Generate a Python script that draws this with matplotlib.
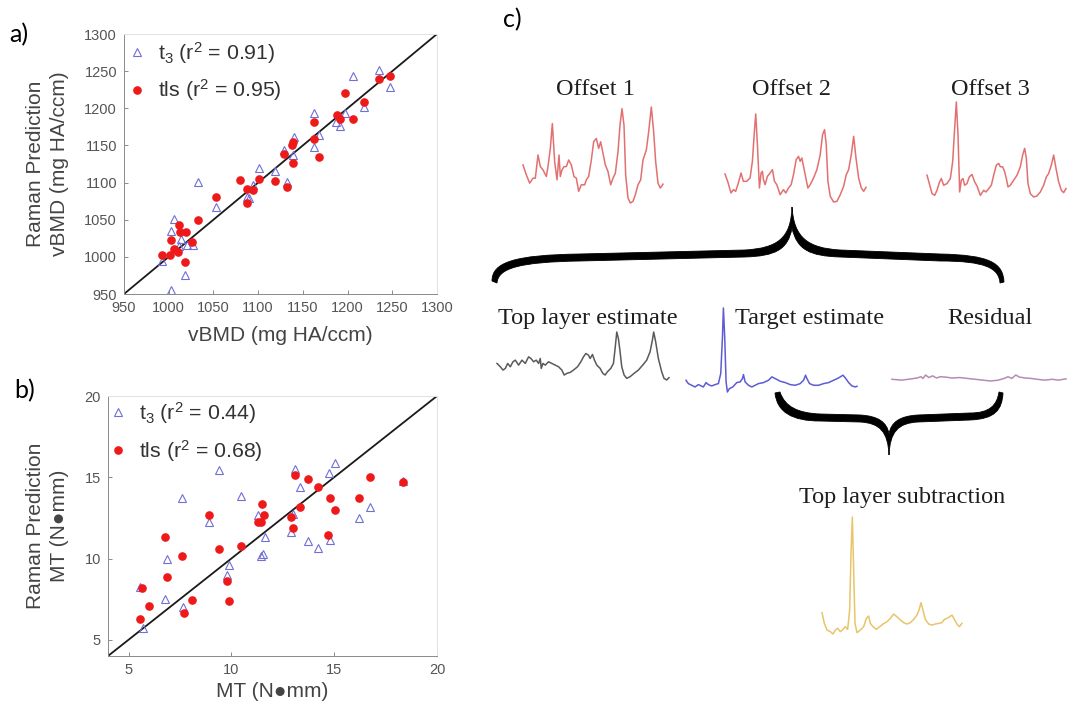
import numpy as np
import matplotlib
matplotlib.use("Agg")
import matplotlib.pyplot as plt
from matplotlib.path import Path
from matplotlib.patches import PathPatch

W, H = 1076, 708

# ---- panel a: vBMD (mg HA/ccm), measured vs Raman prediction
vbmd_t3_x = [1206, 1235, 1247, 1218, 1197, 1187, 1191, 1162, 1162, 1168, 1140, 1139, 1129, 1132, 1119,
             1101, 1087, 1090, 1094, 1053, 1033, 1006, 1002, 1014, 1012, 1020, 1027, 1018, 1002, 993]
vbmd_t3_y = [1243, 1252, 1229, 1202, 1193, 1181, 1176, 1194, 1148, 1164, 1162, 1137, 1144, 1101, 1115,
             1119, 1081, 1079, 1097, 1067, 1101, 1051, 1035, 1024, 1015, 1016, 1016, 975, 956, 994]
vbmd_tls_x = [1247, 1235, 1218, 1197, 1206, 1188, 1191, 1162, 1162, 1168, 1139, 1138, 1139, 1129, 1132,
              1119, 1101, 1080, 1087, 1094, 1087, 1053, 1033, 1011, 1013, 1019, 1003, 1026, 1006, 1010,
              1001, 993, 1018]
vbmd_tls_y = [1243, 1239, 1209, 1220, 1186, 1191, 1186, 1182, 1159, 1135, 1155, 1150, 1127, 1139, 1094,
              1102, 1105, 1104, 1091, 1090, 1072, 1081, 1050, 1043, 1033, 1034, 1023, 1020, 1010, 1007,
              1002, 1002, 993]

# ---- panel b: MT (N*mm)
mt_t3_x = [9.41, 7.58, 10.49, 8.91, 6.88, 9.89, 9.80, 6.77, 7.67, 5.57, 5.71, 11.29, 11.63, 11.42,
           11.53, 13.10, 13.33, 13.02, 12.91, 13.72, 14.22, 14.74, 15.03, 14.82, 16.22, 16.73, 18.35]
mt_t3_y = [15.46, 13.70, 13.82, 12.27, 9.94, 9.57, 8.96, 7.48, 7.03, 8.26, 5.75, 12.66, 11.31, 10.18,
           10.25, 15.52, 14.38, 12.76, 11.62, 11.06, 10.65, 15.26, 15.85, 11.12, 12.47, 13.17, 14.79]
mt_tls_x = [5.66, 5.58, 5.99, 6.77, 6.88, 7.59, 7.69, 8.10, 8.91, 9.39, 9.80, 9.89, 10.49, 11.50,
            11.60, 11.29, 11.42, 13.10, 13.72, 13.33, 12.91, 13.01, 14.22, 14.82, 15.03, 14.72,
            16.22, 16.72, 18.35]
mt_tls_y = [8.16, 6.26, 7.08, 11.31, 8.85, 10.14, 6.67, 7.42, 12.66, 10.59, 8.61, 7.38, 10.76, 13.37,
            12.66, 12.23, 12.23, 15.15, 14.91, 13.15, 12.54, 11.90, 14.40, 13.74, 13.01, 11.45,
            13.74, 15.01, 14.69]

# ---- panel c: spectra (arbitrary units)
off1_x = [25, 35, 45, 55, 62, 70, 77, 85, 95, 100, 107, 113, 120, 127, 133, 137, 142, 148, 155, 162,
          170, 178, 185, 192, 200, 210, 215, 222, 230, 237, 245, 252, 258, 265, 272, 280, 288, 295,
          302, 310, 316, 322, 328, 333, 340, 347, 355, 362, 370, 378, 385, 395, 402, 410, 417, 423,
          430, 437, 445]
off1_y = [130, 100, 75, 90, 90, 160, 125, 115, 95, 125, 180, 255, 140, 85, 160, 95, 115, 125, 125, 145,
          130, 95, 90, 50, 70, 70, 85, 95, 145, 200, 210, 180, 200, 165, 130, 110, 70, 90,
          105, 170, 250, 300, 250, 100, 30, 15, 20, 40, 70, 85, 145, 175, 230, 305, 230, 140,
          75, 60, 72]
off2_x = [630, 638, 648, 655, 662, 670, 678, 685, 695, 705, 712, 718, 722, 727, 733, 738, 742, 745,
          750, 757, 765, 772, 778, 785, 795, 805, 812, 820, 828, 835, 843, 850, 855, 860, 866, 872,
          878, 885, 895, 905, 915, 922, 928, 933, 938, 945, 955, 965, 975, 985, 993, 1000, 1008,
          1015, 1022, 1030, 1038, 1045, 1052]
off2_y = [102, 80, 45, 55, 50, 75, 105, 80, 80, 90, 140, 230, 282, 190, 60, 105, 110, 85,
          70, 95, 105, 115, 80, 70, 40, 55, 45, 60, 70, 100, 145, 155, 140, 150, 120, 90,
          60, 70, 90, 115, 160, 220, 235, 190, 80, 35, 18, 20, 40, 65, 100, 115, 160,
          215, 150, 90, 60, 50, 62]
off3_x = [1235, 1242, 1250, 1258, 1265, 1272, 1278, 1285, 1295, 1305, 1312, 1318, 1323, 1328, 1333,
          1338, 1343, 1348, 1355, 1362, 1370, 1378, 1385, 1395, 1405, 1412, 1420, 1428, 1435, 1443,
          1450, 1455, 1462, 1468, 1473, 1478, 1485, 1495, 1505, 1515, 1522, 1528, 1533, 1538, 1545,
          1555, 1565, 1575, 1585, 1593, 1600, 1608, 1615, 1622, 1630, 1638, 1645, 1652]
off3_y = [100, 75, 45, 40, 55, 78, 90, 70, 75, 90, 140, 240, 318, 220, 50,
          85, 90, 70, 75, 95, 102, 80, 68, 40, 55, 50, 60, 70, 100, 130,
          135, 125, 125, 110, 90, 65, 70, 85, 100, 125, 160, 180, 150, 75, 45,
          35, 38, 50, 70, 95, 105, 130, 160, 120, 80, 55, 48, 60]
top_x = [20, 30, 38, 45, 52, 60, 68, 75, 85, 95, 105, 115, 122, 130, 138, 145, 150, 153, 158, 165,
         175, 185, 195, 205, 215, 222, 230, 240, 250, 262, 272, 280, 287, 295, 300, 307, 313, 320,
         330, 338, 345, 352, 362, 370, 375, 380, 385, 390, 395, 402, 410, 420, 432, 445, 458, 470,
         480, 487, 491, 497, 505, 515, 522, 530, 537]
top_y = [65, 55, 45, 50, 65, 55, 70, 75, 60, 75, 65, 85, 80, 70, 75, 65, 80, 50, 65, 60,
         70, 65, 60, 55, 45, 30, 35, 38, 45, 55, 70, 85, 95, 90, 80, 92, 75, 60,
         50, 35, 30, 40, 50, 65, 110, 160, 140, 100, 55, 30, 20, 25, 35, 45, 60, 75,
         100, 135, 160, 130, 80, 40, 20, 15, 22]
target_x = [588, 595, 605, 615, 625, 640, 648, 655, 665, 675, 685, 692, 697, 700, 704, 708, 712, 718,
            728, 740, 750, 757, 760, 765, 775, 785, 795, 805, 820, 835, 845, 855, 870, 885, 900, 915,
            930, 940, 946, 950, 958, 970, 985, 1000, 1015, 1030, 1045, 1058, 1065, 1075, 1085, 1095,
            1100]
target_y = [45, 35, 30, 25, 32, 25, 38, 32, 28, 32, 35, 65, 170, 260, 170, 40, 10, 20,
            25, 38, 40, 50, 62, 40, 30, 25, 30, 35, 38, 45, 55, 50, 42, 38, 32, 30,
            35, 45, 60, 50, 35, 30, 30, 35, 38, 45, 52, 60, 52, 38, 28, 25, 27]
resid_x = [1085, 1110, 1135, 1150, 1160, 1165, 1172, 1180, 1190, 1200, 1210, 1225, 1240, 1260, 1280,
           1300, 1320, 1340, 1360, 1375, 1385, 1395, 1405, 1415, 1430, 1445, 1460, 1480, 1500, 1515,
           1535]
resid_y = [7, 5, 8, 10, 13, 9, 17, 11, 15, 10, 13, 12, 10, 11, 9, 7, 5, 3, 5, 9, 13, 9, 17, 12, 10,
           9, 7, 5, 7, 5, 8]
sub_x = [185, 192, 200, 210, 218, 225, 232, 240, 248, 255, 262, 268, 272, 276, 280, 284, 290, 300,
         310, 318, 325, 330, 338, 348, 358, 368, 380, 390, 400, 410, 420, 430, 440, 450, 460, 470,
         476, 482, 488, 495, 505, 515, 525, 535, 545, 552, 560, 568, 575, 582, 590, 597, 605]
sub_y = [72, 40, 20, 15, 8, 20, 25, 15, 22, 30, 22, 80, 250, 360, 200, 40, 12, 20,
         30, 55, 62, 40, 30, 22, 30, 38, 45, 55, 68, 60, 50, 42, 38, 42, 52, 65,
         80, 102, 80, 52, 38, 35, 38, 40, 42, 52, 55, 60, 65, 52, 38, 30, 40]

plt.rcParams['mathtext.default'] = 'regular'
plt.rcParams['font.family'] = ['Liberation Sans', 'DejaVu Sans']

fig = plt.figure(figsize=(W / 100, H / 100), dpi=100)


def px_axes(x0, y0, x1, y1, **kw):
    # box given in pixels, y measured from the top
    return fig.add_axes([x0 / W, 1 - y1 / H, (x1 - x0) / W, (y1 - y0) / H], **kw)


# overlay for panel-c annotation and panel labels
ov = px_axes(0, 0, W, H)
ov.set_xlim(0, W)
ov.set_ylim(H, 0)
ov.axis('off')

label_font = ['Lato', 'DejaVu Sans']
ov.text(9, 35, 'a)', fontsize=18, family=label_font, va='center')
ov.text(14, 391, 'b)', fontsize=18, family=label_font, va='center')
ov.text(503, 20, 'c)', fontsize=18, family=label_font, va='center')


def scatter_panel(ax, t3x, t3y, tlsx, tlsy, lims, ticks, t3_r2, tls_r2, xlabel, ylabel,
                  xlab_y, ylab_x, leg_anchor):
    ax.plot(lims, lims, color='#1a1a1a', lw=1.3, zorder=1)
    ax.plot(t3x, t3y, linestyle='none', marker='^', ms=6.4, mfc='none', mec='#6f6fd8', mew=0.8,
            label=f'$t_3$ ($r^2$ = {t3_r2})', zorder=2)
    ax.plot(tlsx, tlsy, linestyle='none', marker='o', ms=5.2, mfc='#ee1a1a', mec='#ee1a1a',
            label=f'tls ($r^2$ = {tls_r2})', zorder=3)
    ax.set_xlim(lims)
    ax.set_ylim(lims)
    ax.set_xticks(ticks)
    ax.set_yticks(ticks)
    ax.tick_params(direction='in', length=3, width=0.6, color='#777777', labelcolor='#555555',
                   labelsize=10.5, pad=5)
    for side in ['left', 'bottom']:
        ax.spines[side].set_color('#8a8a8a')
        ax.spines[side].set_linewidth(0.7)
    for side in ['top', 'right']:
        ax.spines[side].set_color('#e2e2e2')
        ax.spines[side].set_linewidth(0.7)
    ax.set_xlabel(xlabel, fontsize=15, color='#444444', va='center')
    ax.xaxis.set_label_coords(0.5, xlab_y)
    ax.set_ylabel(ylabel, fontsize=15, color='#444444', va='center', linespacing=1.35)
    ax.yaxis.set_label_coords(ylab_x, 0.5)
    leg = ax.legend(loc='upper left', bbox_to_anchor=leg_anchor, frameon=False, fontsize=15.3,
                    handlelength=0.8, handletextpad=0.6, labelspacing=0.55, borderaxespad=0,
                    borderpad=0)
    for t in leg.get_texts():
        t.set_color('#333333')


ax_a = px_axes(124, 34, 437, 294)
scatter_panel(ax_a, vbmd_t3_x, vbmd_t3_y, vbmd_tls_x, vbmd_tls_y, (950, 1300),
              np.arange(950, 1301, 50), '0.91', '0.95', 'vBMD (mg HA/ccm)',
              'Raman Prediction\nvBMD (mg HA/ccm)', -0.158, -0.245, (0.013, 0.978))

ax_b = px_axes(108, 396, 437, 656)
scatter_panel(ax_b, mt_t3_x, mt_t3_y, mt_tls_x, mt_tls_y, (4, 20), [5, 10, 15, 20],
              '0.44', '0.68', 'MT (N\u25CFmm)', 'Raman Prediction\nMT (N\u25CFmm)',
              -0.138, -0.184, (0.004, 0.984))


def spectrum(box, xs, ys, color):
    ax = px_axes(*box)
    ax.plot(xs, ys, color=color, lw=1.1, clip_on=False, solid_joinstyle='round')
    ax.set_xlim(min(xs), max(xs))
    ax.set_ylim(min(ys), max(ys))
    ax.axis('off')
    return ax


spectrum((523, 107, 663, 203), off1_x, off1_y, '#e27070')
spectrum((725, 114, 866, 202), off2_x, off2_y, '#e27070')
spectrum((927, 102, 1066, 197), off3_x, off3_y, '#e27070')
spectrum((497, 332, 669, 380), top_x, top_y, '#5a5a5a')
spectrum((686, 308, 857, 392), target_x, target_y, '#5c5cd4')
spectrum((892, 375, 1066, 381), resid_x, resid_y, '#b48cb4')
spectrum((822, 517, 962, 634), sub_x, sub_y, '#e8c56a')

serif = ['Liberation Serif', 'DejaVu Serif']
for txt, cx, base in [('Offset 1', 595, 95), ('Offset 2', 792, 95), ('Offset 3', 990, 95),
                      ('Top layer estimate', 588, 324), ('Target estimate', 810, 324),
                      ('Residual', 990, 324), ('Top layer subtraction', 902, 503)]:
    ov.text(cx, base, txt, fontsize=17.5, family=serif, color='#1e1e1e', ha='center',
            va='baseline')

# braces (drawn as tapered filled outlines, pixel units)
M, L, C, Z = Path.MOVETO, Path.LINETO, Path.CURVE4, Path.CLOSEPOLY
big = [((492, 281), M),
       ((492, 262), C), ((515, 255), C), ((580, 254), C),
       ((745, 250), L),
       ((778, 248), C), ((791, 238), C), ((792, 207), C),
       ((794, 238), C), ((808, 248), C), ((840, 250), C),
       ((940, 254), L),
       ((990, 255), C), ((1003, 263), C), ((1004, 282), C),
       ((1000, 283), L),
       ((999, 268), C), ((985, 261), C), ((940, 261), C),
       ((840, 257), L),
       ((810, 256), C), ((797, 250), C), ((792, 228), C),
       ((788, 250), C), ((775, 256), C), ((745, 257), C),
       ((580, 261), L),
       ((520, 262), C), ((498, 268), C), ((497, 283), C),
       ((492, 281), Z)]
small = [((775, 393), M),
         ((777, 412), C), ((792, 421), C), ((820, 421), C),
         ((860, 422), L),
         ((880, 423), C), ((888, 432), C), ((889, 455), C),
         ((890, 432), C), ((898, 423), C), ((918, 422), C),
         ((970, 420), L),
         ((995, 419), C), ((1002, 410), C), ((1003, 393), C),
         ((999, 392), L),
         ((997, 405), C), ((990, 413), C), ((970, 413), C),
         ((918, 415), L),
         ((900, 416), C), ((891, 422), C), ((889, 434), C),
         ((887, 422), C), ((878, 416), C), ((860, 415), C),
         ((820, 414), L),
         ((798, 413), C), ((785, 407), C), ((780, 392), C),
         ((775, 393), Z)]
for spec in (big, small):
    verts, codes = zip(*spec)
    ov.add_patch(PathPatch(Path(verts, codes), facecolor='black', edgecolor='black', lw=0.6))

fig.savefig('out.png', dpi=100)
